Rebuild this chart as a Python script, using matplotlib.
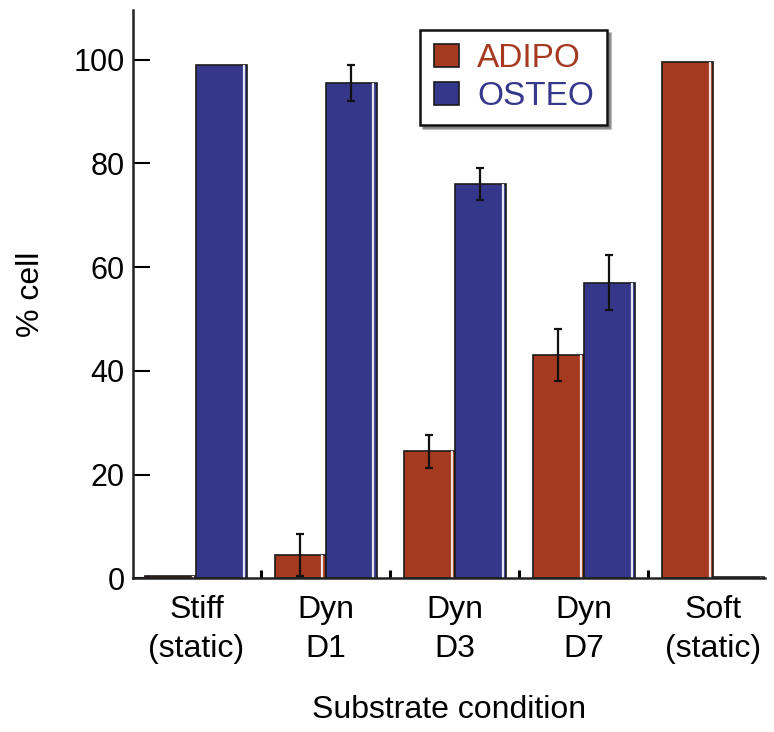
import numpy as np
import matplotlib.pyplot as plt

plt.rcParams['font.family'] = ['Liberation Sans', 'DejaVu Sans']

conditions = ["Stiff\n(static)", "Dyn\nD1", "Dyn\nD3", "Dyn\nD7", "Soft\n(static)"]
adipo = [0.4, 4.5, 24.5, 43, 99.5]
adipo_err = [0, 4, 3.2, 5, 0]
osteo = [99, 95.5, 76, 57, 0.3]
osteo_err = [0, 3.5, 3, 5.3, 0]

red = '#a53a21'
blue = '#34378a'

fig = plt.figure(figsize=(7.74, 7.32), dpi=100)
ax = fig.add_axes([0.172, 0.21, 0.816, 0.776])

x = np.arange(len(conditions))
bw = 0.395

ax.bar(x - bw/2, adipo, bw, color=red, edgecolor='#1a1a1a', linewidth=1.2, label='ADIPO')
ax.bar(x + bw/2, osteo, bw, color=blue, edgecolor='#1a1a1a', linewidth=1.2, label='OSTEO')
# light stripe along the right edge of each bar
ax.vlines(x - 0.025, 0, adipo, colors='#f0e6e0', linewidth=1.6)
ax.vlines(x + bw - 0.025, 0, osteo, colors='#e6e6f0', linewidth=1.6)

# error bars only where there is spread
for i in range(len(x)):
    if adipo_err[i] > 0:
        ax.errorbar(x[i] - bw/2, adipo[i], yerr=adipo_err[i], fmt='none',
                    ecolor='#111111', elinewidth=1.6, capsize=3, capthick=1.6)
    if osteo_err[i] > 0:
        ax.errorbar(x[i] + bw/2, osteo[i], yerr=osteo_err[i], fmt='none',
                    ecolor='#111111', elinewidth=1.6, capsize=3, capthick=1.6)

ax.set_xlim(-0.49, 4.4)
ax.set_ylim(0, 109.5)
ax.set_yticks([0, 20, 40, 60, 80, 100])
ax.set_xticks(x)
ax.set_xticklabels(conditions, fontsize=23, linespacing=1.4)
ax.set_xticks(x[:-1] + 0.5, minor=True)
ax.tick_params(axis='x', which='major', length=0, pad=12)
ax.tick_params(axis='x', which='minor', length=6, width=2.2, direction='in')
ax.tick_params(axis='y', direction='in', length=12, width=1.5, labelsize=22, pad=6)

for s in ['top', 'right']:
    ax.spines[s].set_visible(False)
for s in ['left', 'bottom']:
    ax.spines[s].set_linewidth(1.8)
    ax.spines[s].set_color('#222222')

ax.set_ylabel('% cell', fontsize=23, labelpad=20)
ax.set_xlabel('Substrate condition', fontsize=23, labelpad=22)

leg = ax.legend(loc='upper left', bbox_to_anchor=(0.455, 0.965), fontsize=24,
                frameon=True, fancybox=False, shadow=True, handlelength=0.75,
                handleheight=0.7, handletextpad=0.55, borderpad=0.4, labelspacing=0.2,
                borderaxespad=0)
leg.get_frame().set_edgecolor('#111111')
leg.get_frame().set_linewidth(1.8)
for t, c in zip(leg.get_texts(), [red, blue]):
    t.set_color(c)

fig.savefig('out.png', dpi=100)
